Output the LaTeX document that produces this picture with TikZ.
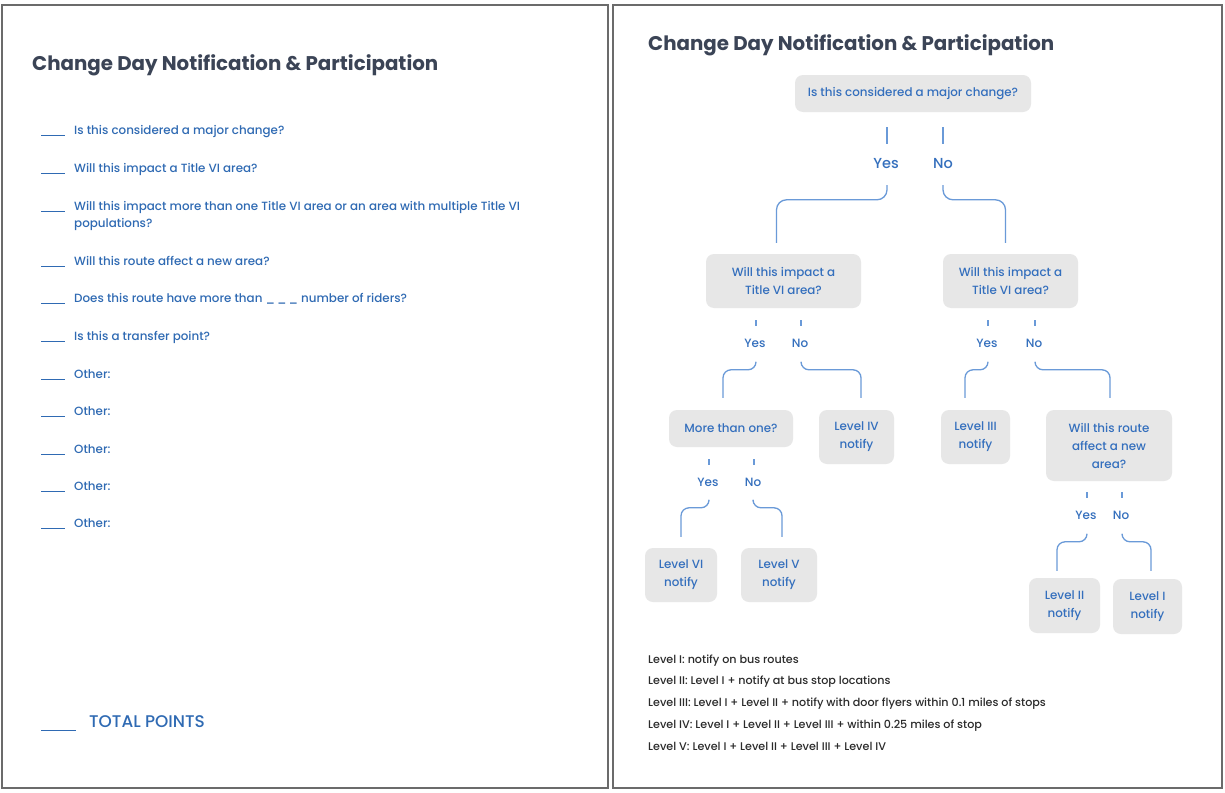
\documentclass[tikz,border=0pt]{standalone}
\usepackage{fontspec}
\setmainfont{Poppins}
\IfFontExistsTF{Poppins Medium}
  {\newfontfamily\medfont{Poppins Medium}}
  {\newfontfamily\medfont{Poppins}[FakeBold=0.6]}
\usetikzlibrary{calc}
\definecolor{framegray}{HTML}{6B6B6B}
\definecolor{titlecol}{HTML}{3B4456}
\definecolor{itemblue}{HTML}{2F6AB3}
\definecolor{boxblue}{HTML}{346FBD}
\definecolor{boxgray}{HTML}{E7E7E7}
\definecolor{linkblue}{HTML}{6A9AD8}
\definecolor{legendcol}{HTML}{2B2B2B}
\begin{document}
\begin{tikzpicture}[x=1pt,y=-1pt,
  panel/.style={draw=framegray,line width=2.5pt},
  heading/.style={anchor=west,inner sep=0pt,text=titlecol,font=\bfseries\fontsize{19.8}{23}\selectfont},
  item/.style={anchor=base west,inner sep=0pt,text=itemblue,align=left,font=\medfont\fontsize{11.9}{17}\selectfont},
  blank/.style={draw=itemblue,line width=1pt},
  box/.style={fill=boxgray,rounded corners=8pt,align=center,inner sep=0pt,text=boxblue,font=\medfont\fontsize{11.9}{18}\selectfont},
  ans/.style={inner sep=0pt,text=boxblue,font=\medfont\fontsize{12}{14}\selectfont},
  bigans/.style={ans,font=\medfont\fontsize{14.5}{16}\selectfont},
  conn/.style={draw=linkblue,line width=1.3pt,rounded corners=8pt},
  tickmark/.style={draw=linkblue,line width=1.1pt},
  legend/.style={anchor=base west,inner sep=0pt,text=legendcol,font=\medfont\fontsize{11.15}{13}\selectfont}
]
\useasboundingbox (0,0) rectangle (1225,792);
\fill[white] (0,0) rectangle (1225,792);

% ---------- panel frames ----------
\draw[panel] (2,5) rectangle (608,788);
\draw[panel] (613,5) rectangle (1222,788);

% ---------- left panel: scoring checklist ----------
\node[heading] (lhead) at (32,65) {Change Day Notification \& Participation};

\foreach \yy/\txt [count=\i] in {
  134/{Is this considered a major change?},
  172/{Will this impact a Title VI area?},
  265/{Will this route affect a new area?},
  302/{Does this route have more than \_\,\_\,\_ number of riders?},
  340/{Is this a transfer point?},
  378/{Other:},
  415/{Other:},
  453/{Other:},
  490/{Other:},
  527/{Other:}}{
  \node[item] (q\i) at (74,\yy) {\txt};
  \draw[blank] (41,\yy+1) -- (65,\yy+1);
}
% the one item that runs over two lines
\node[item] (q11) at (74,227) {Will this impact more than one Title VI area or an area with multiple Title VI\\populations?};
\draw[blank] (41,211) -- (65,211);

\node[anchor=base west,inner sep=0pt,text=itemblue,font=\medfont\fontsize{16.9}{18}\selectfont] (total) at (89,727) {TOTAL POINTS};
\draw[blank] (41,730) -- (76,730);

% ---------- right panel: decision tree ----------
\node[heading] (rhead) at (648,45) {Change Day Notification \& Participation};

\node[box,minimum width=236pt,minimum height=37pt] (root) at (913,93.5) {Is this considered a major change?};
\node[box,minimum width=155pt,minimum height=54pt] (A) at (783.5,281) {Will this impact a\\Title VI area?};
\node[box,minimum width=135pt,minimum height=54pt] (B) at (1010.5,281) {Will this impact a\\Title VI area?};
\node[box,minimum width=124pt,minimum height=37pt] (C) at (731,428.5) {More than one?};
\node[box,minimum width=75pt,minimum height=54pt] (D) at (856.5,437) {Level IV\\notify};
\node[box,minimum width=72pt,minimum height=54pt] (E) at (681,575) {Level VI\\notify};
\node[box,minimum width=76pt,minimum height=54pt] (F) at (779,575) {Level V\\notify};
\node[box,minimum width=69pt,minimum height=54pt] (G) at (975.5,437) {Level III\\notify};
\node[box,minimum width=126pt,minimum height=71pt] (H) at (1109,445.5) {Will this route\\affect a new\\area?};
\node[box,minimum width=71pt,minimum height=55pt] (I) at (1064.5,605.5) {Level II\\notify};
\node[box,minimum width=69pt,minimum height=55pt] (J) at (1147.5,606.5) {Level I\\notify};

% answer labels
\node[bigans] (rootY) at (886,164) {Yes};
\node[bigans] (rootN) at (943,164) {No};
\node[ans] (AY) at (755,343) {Yes};
\node[ans] (AN) at (800,343) {No};
\node[ans] (BY) at (987,343) {Yes};
\node[ans] (BN) at (1034,343) {No};
\node[ans] (CY) at (708,482) {Yes};
\node[ans] (CN) at (753,482) {No};
\node[ans] (HY) at (1086,515) {Yes};
\node[ans] (HN) at (1121,515) {No};

% short strokes above the answers
\draw[tickmark] ($(rootY)+(1,-37)$) -- ++(0,17);
\draw[tickmark] ($(rootN)+(0,-37)$) -- ++(0,17);
\foreach \lab in {AY,AN,BY,BN,CY,CN,HY,HN}
  \draw[tickmark] ($(\lab)+(1,-23)$) -- ++(0,6);

% branches from the answers down to the next step
\draw[conn,rounded corners=10pt] ($(rootY)+(1,21)$) |- ($(A.north)+(-7,-54)$) -- ($(A.north)+(-7,-11)$);
\draw[conn,rounded corners=10pt] ($(rootN)+(0,21)$) |- ($(B.north)+(-5,-54)$) -- ($(B.north)+(-5,-11)$);

\draw[conn] ($(AY)+(1,19)$) |- ($(C.north)+(-8,-40)$) -- ($(C.north)+(-8,-12)$);
\draw[conn] ($(AN)+(1,19)$) |- ($(D.north)+(4.5,-40)$) -- ($(D.north)+(4.5,-12)$);

\draw[conn] ($(BY)+(1,19)$) |- ($(G.north)+(-10.5,-40)$) -- ($(G.north)+(-10.5,-12)$);
\draw[conn] ($(BN)+(1,19)$) |- ($(H.north)+(1,-40)$) -- ($(H.north)+(1,-12)$);

\draw[conn] ($(CY)+(1,19)$) |- ($(E.north)+(0,-40)$) -- ($(E.north)+(0,-11)$);
\draw[conn] ($(CN)+(0,19)$) |- ($(F.north)+(3,-40)$) -- ($(F.north)+(3,-11)$);

\draw[conn] ($(HY)+(1,19)$) |- ($(I.north)+(-7.5,-36)$) -- ($(I.north)+(-7.5,-7)$);
\draw[conn] ($(HN)+(1,19)$) |- ($(J.north)+(3.5,-37)$) -- ($(J.north)+(3.5,-8)$);

% legend of notification levels
\node[legend] (L1) at (648,663) {Level I: notify on bus routes};
\node[legend] (L2) at (648,684) {Level II: Level I + notify at bus stop locations};
\node[legend] (L3) at (648,706) {Level III: Level I + Level II + notify with door flyers within 0.1 miles of stops};
\node[legend] (L4) at (648,728) {Level IV: Level I + Level II + Level III + within 0.25 miles of stop};
\node[legend] (L5) at (648,750) {Level V: Level I + Level II + Level III + Level IV};
\end{tikzpicture}
\end{document}
